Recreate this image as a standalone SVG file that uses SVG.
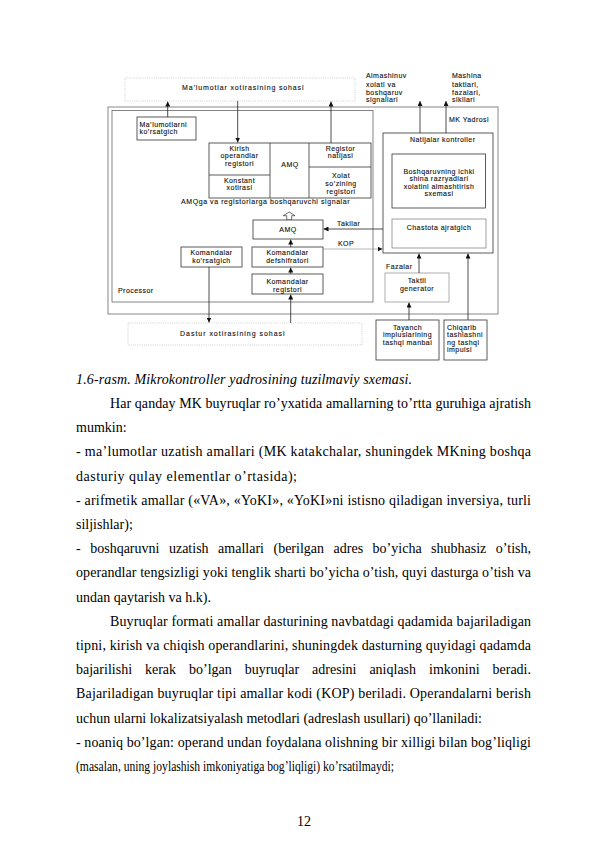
<svg xmlns="http://www.w3.org/2000/svg" width="595" height="842" viewBox="0 0 595 842">
<defs>
<marker id="ah" viewBox="0 0 6 6" refX="6" refY="3" markerWidth="5" markerHeight="5" orient="auto" markerUnits="userSpaceOnUse">
<path d="M0,0 L6,3 L0,6 z" fill="#111"/>
</marker>
</defs>
<style>
.d{font-family:"Liberation Sans",Arial,sans-serif;font-size:7px;letter-spacing:0.45px;fill:#111;stroke:#111;stroke-width:0.12}
.c{text-anchor:middle}
.bx{fill:#fff;stroke:#333;stroke-width:0.8}
.lb{fill:none;stroke:#999;stroke-width:0.8}
.dt{fill:#fff;stroke:#bbb;stroke-width:0.7;stroke-dasharray:1 1.2}
.ln{fill:none;stroke:#222;stroke-width:0.8;marker-end:url(#ah)}
.lnl{fill:none;stroke:#888;stroke-width:0.6;marker-end:url(#ah)}
.t{font-family:"Liberation Serif","Times New Roman",serif;font-size:14px;fill:#000}
</style>
<rect width="595" height="842" fill="#fff"/>

<g id="mk-yadrosi">
<rect x="108" y="107" width="390" height="207" fill="none" stroke="#888" stroke-width="1"/>
<text class="d" x="449" y="122">MK Yadrosi</text>
</g>
<g id="processor">
<rect x="112" y="110.5" width="261" height="191.5" fill="none" stroke="#666" stroke-width="0.8"/>
<text class="d" x="118" y="293">Processor</text>
</g>

<g id="malumotlar-xotirasi">
<rect class="dt" x="125" y="78" width="230" height="23"/>
<text class="d" x="182" y="90" font-size="7.8" textLength="122">Ma’lumotlar xotirasining sohasi</text>
</g>

<g id="malumotlarni-korsatgich">
<rect class="bx" x="137" y="117" width="59" height="23"/>
<text class="d" x="139.5" y="126.5">Ma’lumotlarni</text>
<text class="d" x="139.5" y="134.2">ko’rsatgich</text>
</g>

<g id="amq-blok">
<rect class="bx" x="209" y="143" width="162" height="55"/>
<line x1="270" y1="143" x2="270" y2="198" stroke="#333" stroke-width="0.8"/>
<line x1="309" y1="143" x2="309" y2="198" stroke="#333" stroke-width="0.8"/>
<line x1="209" y1="175" x2="270" y2="175" stroke="#333" stroke-width="0.8"/>
<line x1="309" y1="167" x2="371" y2="167" stroke="#333" stroke-width="0.8"/>
<text class="d c" x="239.5" y="150.5">Kirish</text>
<text class="d c" x="239.5" y="158">operandlar</text>
<text class="d c" x="239.5" y="165.5">registori</text>
<text class="d c" x="239.5" y="182.5">Konstant</text>
<text class="d c" x="239.5" y="190">xotirasi</text>
<text class="d c" x="290" y="166.5" font-size="8">AMQ</text>
<text class="d c" x="340.5" y="150.5">Registor</text>
<text class="d c" x="340.5" y="158">natijasi</text>
<text class="d c" x="341" y="177.5" font-size="7.4">Xolat</text>
<text class="d c" x="341" y="185.7" font-size="7.4">so’zining</text>
<text class="d c" x="341" y="193.8" font-size="7.4">registori</text>
</g>

<g id="signal-label">
<text class="d" x="181" y="204.3" font-size="7.4" textLength="169">AMQga va registorlarga boshqaruvchi signalar</text>
</g>

<g id="amq-kichik">
<polygon points="286.7,220 286.7,215.7 283.3,215.7 289.2,212 295,215.7 291.7,215.7 291.7,220" fill="#fff" stroke="#333" stroke-width="0.7"/>
<rect class="bx" x="253" y="220" width="70" height="19"/>
<text class="d c" x="288" y="231.7">AMQ</text>
</g>

<g id="komandalar-korsatgich">
<rect class="bx" x="181" y="247" width="61" height="20"/>
<text class="d c" x="211.5" y="255">Komandalar</text>
<text class="d c" x="211.5" y="263">ko’rsatgich</text>
</g>
<g id="komandalar-defshifratori">
<rect class="bx" x="252" y="247" width="71" height="20"/>
<text class="d c" x="287.5" y="255">Komandalar</text>
<text class="d c" x="287.5" y="263">defshifratori</text>
</g>
<g id="komandalar-registori">
<rect class="bx" x="252" y="274" width="71" height="20"/>
<text class="d c" x="287.5" y="284">Komandalar</text>
<text class="d c" x="287.5" y="292">registori</text>
</g>

<g id="dastur-xotirasi">
<rect class="dt" x="128" y="323" width="234" height="22"/>
<text class="d" x="180" y="335.5" font-size="7.8" textLength="105">Dastur xotirasining sohasi</text>
</g>

<g id="natijalar-kontroller">
<rect class="bx" x="383" y="133" width="110" height="120"/>
<text class="d" x="410" y="141.5">Natijalar kontroller</text>
</g>
<g id="boshqaruv-sxemasi">
<rect class="bx" x="392" y="154" width="93.5" height="54"/>
<text class="d c" x="439" y="173.5">Boshqaruvning ichki</text>
<text class="d c" x="439" y="181">shina razryadlari</text>
<text class="d c" x="439" y="188.5">xolatini almashtirish</text>
<text class="d c" x="439" y="196">sxemasi</text>
</g>
<g id="chastota-ajratgich">
<rect x="392" y="219" width="94" height="29" fill="#fff" stroke="#777" stroke-width="0.7"/>
<text class="d c" x="439" y="230">Chastota ajratgich</text>
</g>

<g id="taktli-generator">
<rect class="lb" x="385" y="273" width="64" height="29"/>
<text class="d c" x="417" y="283">Taktli</text>
<text class="d c" x="417" y="290.5">generator</text>
</g>
<g id="tayanch">
<rect class="bx" x="376" y="320" width="63" height="40"/>
<text class="d c" x="407.5" y="330">Tayanch</text>
<text class="d c" x="407.5" y="337.3">impluslarining</text>
<text class="d c" x="407.5" y="344.6">tashqi manbai</text>
</g>
<g id="chiqarib">
<rect class="bx" x="444" y="320" width="43" height="40"/>
<text class="d" x="447" y="330" letter-spacing="0.25">Chiqarib</text>
<text class="d" x="447" y="337.3" letter-spacing="0.25">tashlashni</text>
<text class="d" x="447" y="344.6" letter-spacing="0.25">ng tashqi</text>
<text class="d" x="447" y="352" letter-spacing="0.25">impulsi</text>
</g>

<g id="tashqi-labels">
<text class="d" x="366" y="78.3">Almashinuv</text>
<text class="d" x="366" y="86.5">xolati va</text>
<text class="d" x="366" y="94.5">boshqaruv</text>
<text class="d" x="366" y="102.3">signallari</text>
<text class="d" x="452" y="78.3">Mashina</text>
<text class="d" x="452" y="86.5">taktlari,</text>
<text class="d" x="452" y="94.5">fazalari,</text>
<text class="d" x="452" y="102.3">sikllari</text>
<text class="d" x="337" y="225.5">Takilar</text>
<text class="d" x="338" y="245.5" font-size="8">KOP</text>
<text class="d" x="386" y="269">Fazalar</text>
</g>

<g id="connectors">
<path class="ln" d="M167.7,117 V101.5"/>
<path class="ln" d="M237.7,101 V142.5"/>
<path class="ln" d="M331,143 V101.5"/>
<path class="ln" d="M420,133 V101"/>
<path class="ln" d="M446,133 V101"/>
<path class="ln" d="M383,229 H323.5"/>
<path class="lnl" d="M323,249 H382.5"/>
<path class="ln" d="M290.7,247 V239.5"/>
<path class="ln" d="M290.7,274 V267.5"/>
<path class="ln" d="M290.7,323 V294.5"/>
<path class="ln" d="M209,267 V322.5"/>
<path class="ln" d="M419,273 V253.5"/>
<path class="ln" d="M409,320 V302.5"/>
<path class="ln" d="M468,320 V253.5"/>
</g>

<g id="matn">
<text class="t" x="76" y="384" font-style="italic" textLength="336">1.6-rasm. Mikrokontroller yadrosining tuzilmaviy sxemasi.</text>
<text class="t" x="110" y="408" textLength="421">Har qanday MK buyruqlar ro’yxatida amallarning to’rtta guruhiga ajratish</text>
<text class="t" x="76" y="432.2">mumkin:</text>
<text class="t" x="76" y="456.4" textLength="455">- ma’lumotlar uzatish amallari (MK katakchalar, shuningdek MKning boshqa</text>
<text class="t" x="76" y="480.6" textLength="221">dasturiy qulay elementlar o’rtasida);</text>
<text class="t" x="76" y="504.8" textLength="455">- arifmetik amallar («VA», «YoKI», «YoKI»ni istisno qiladigan inversiya, turli</text>
<text class="t" x="76" y="529">siljishlar);</text>
<text class="t" x="76" y="553.2" word-spacing="6" textLength="455">- boshqaruvni uzatish amallari (berilgan adres bo’yicha shubhasiz o’tish,</text>
<text class="t" x="76" y="577.4" textLength="455">operandlar tengsizligi yoki tenglik sharti bo’yicha o’tish, quyi dasturga o’tish va</text>
<text class="t" x="76" y="601.6">undan qaytarish va h.k).</text>
<text class="t" x="110" y="625.8" textLength="421">Buyruqlar formati amallar dasturining navbatdagi qadamida bajariladigan</text>
<text class="t" x="76" y="650" textLength="455">tipni, kirish va chiqish operandlarini, shuningdek dasturning quyidagi qadamda</text>
<text class="t" x="76" y="674.2" word-spacing="9.4" textLength="455">bajarilishi kerak bo’lgan buyruqlar adresini aniqlash imkonini beradi.</text>
<text class="t" x="76" y="698.4" textLength="455">Bajariladigan buyruqlar tipi amallar kodi (KOP) beriladi. Operandalarni berish</text>
<text class="t" x="76" y="722.6" textLength="406">uchun ularni lokalizatsiyalash metodlari (adreslash usullari) qo’llaniladi:</text>
<text class="t" x="76" y="746.8" textLength="455">- noaniq bo’lgan: operand undan foydalana olishning bir xilligi bilan bog’liqligi</text>
<text class="t" x="76" y="771" textLength="318" lengthAdjust="spacingAndGlyphs">(masalan, uning joylashish imkoniyatiga bog’liqligi) ko’rsatilmaydi;</text>
<text class="t" x="304" y="826" text-anchor="middle">12</text>
</g>
</svg>
